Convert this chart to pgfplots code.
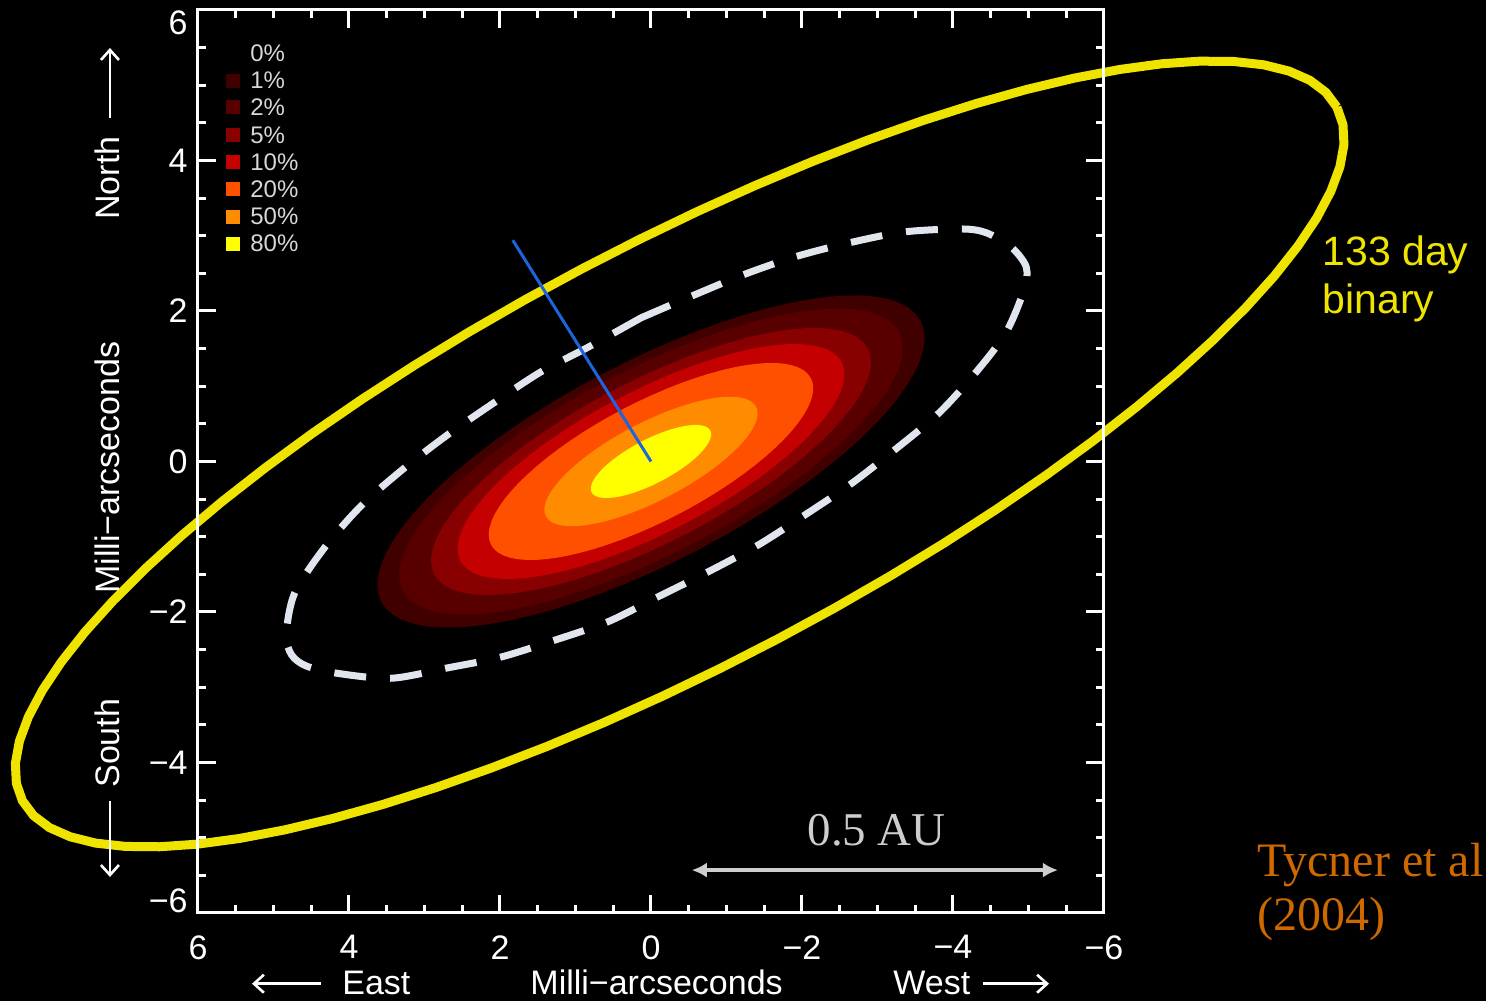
\documentclass[border=0pt]{standalone}
\usepackage{pgfplots}
\pgfplotsset{compat=1.18}
\usepackage{pgfplotstable}
\usepackage{fontspec}
\setmainfont{Liberation Sans}
\newfontfamily\timesfont{Liberation Serif}
\usetikzlibrary{backgrounds,calc,arrows.meta}

\definecolor{c1}{RGB}{64,0,0}
\definecolor{c2}{RGB}{88,0,0}
\definecolor{c5}{RGB}{136,0,0}
\definecolor{c10}{RGB}{196,0,0}
\definecolor{c20}{RGB}{255,80,0}
\definecolor{c50}{RGB}{255,140,0}
\definecolor{c80}{RGB}{255,255,0}
\definecolor{orbit}{RGB}{238,228,0}
\definecolor{dashc}{RGB}{225,230,238}
\definecolor{blueline}{RGB}{30,100,220}
\definecolor{tyc}{RGB}{205,105,0}
\definecolor{aucol}{RGB}{205,205,205}
\definecolor{legtext}{RGB}{215,215,215}

% unit circle, every 5 degrees
\pgfplotstableread{
c s
1.0000 0.0000
0.9962 0.0872
0.9848 0.1736
0.9659 0.2588
0.9397 0.3420
0.9063 0.4226
0.8660 0.5000
0.8192 0.5736
0.7660 0.6428
0.7071 0.7071
0.6428 0.7660
0.5736 0.8192
0.5000 0.8660
0.4226 0.9063
0.3420 0.9397
0.2588 0.9659
0.1736 0.9848
0.0872 0.9962
0.0000 1.0000
-0.0872 0.9962
-0.1736 0.9848
-0.2588 0.9659
-0.3420 0.9397
-0.4226 0.9063
-0.5000 0.8660
-0.5736 0.8192
-0.6428 0.7660
-0.7071 0.7071
-0.7660 0.6428
-0.8192 0.5736
-0.8660 0.5000
-0.9063 0.4226
-0.9397 0.3420
-0.9659 0.2588
-0.9848 0.1736
-0.9962 0.0872
-1.0000 0.0000
-0.9962 -0.0872
-0.9848 -0.1736
-0.9659 -0.2588
-0.9397 -0.3420
-0.9063 -0.4226
-0.8660 -0.5000
-0.8192 -0.5736
-0.7660 -0.6428
-0.7071 -0.7071
-0.6428 -0.7660
-0.5736 -0.8192
-0.5000 -0.8660
-0.4226 -0.9063
-0.3420 -0.9397
-0.2588 -0.9659
-0.1736 -0.9848
-0.0872 -0.9962
0.0000 -1.0000
0.0872 -0.9962
0.1736 -0.9848
0.2588 -0.9659
0.3420 -0.9397
0.4226 -0.9063
0.5000 -0.8660
0.5736 -0.8192
0.6428 -0.7660
0.7071 -0.7071
0.7660 -0.6428
0.8192 -0.5736
0.8660 -0.5000
0.9063 -0.4226
0.9397 -0.3420
0.9659 -0.2588
0.9848 -0.1736
0.9962 -0.0872
1.0000 0.0000
}\unitcircle

% disk contour: semi-major #1 (mas), axis ratio 0.33, tilted 27.6 deg
\newcommand{\diskell}[2]{%
\addplot[draw=none, fill=#2] table[x expr={#1*(-0.8862*\thisrow{c}+0.1529*\thisrow{s})}, y expr={#1*(0.4633*\thisrow{c}+0.2924*\thisrow{s})}] {\unitcircle};}

\begin{document}
\begin{tikzpicture}
\begin{axis}[
  name=ax,
  scale only axis, width=453pt, height=451.5pt,
  xmin=-6, xmax=6, ymin=-6, ymax=6,
  x dir=reverse,
  axis on top, clip=false,
  axis line style={white, line width=1.5pt},
  every tick/.style={white, line width=1.5pt},
  major tick length=9pt, minor tick length=4pt,
  xtick={-6,-4,-2,0,2,4,6}, ytick={-6,-4,-2,0,2,4,6},
  minor tick num=3,
  xtick pos=both, ytick pos=both,
  tick align=inside,
  xticklabels={−6,−4,−2,0,2,4,6},
  yticklabels={\raisebox{0pt}[0pt][0pt]{−6},−4,−2,0,2,4,\raisebox{-12.2pt}[0pt][0pt]{6}},
  ticklabel style={font=\fontsize{17}{17}\selectfont, text=white, inner sep=0pt},
  xticklabel style={anchor=north, yshift=-11pt},
  yticklabel style={anchor=east, xshift=-5pt},
]
% disk contours
\diskell{4.03}{c1}
\diskell{3.71}{c2}
\diskell{3.24}{c5}
\diskell{2.85}{c10}
\diskell{2.39}{c20}
\diskell{1.57}{c50}
\diskell{0.886}{c80}

% dashed white contour
\addplot[dashc, line width=3.5pt, dash pattern=on 16pt off 12pt, smooth] coordinates {
(0.13,1.91) (0.83,1.52) (1.46,1.19) (2.08,0.78) (2.70,0.35) (3.27,-0.09) (3.83,-0.58)
(4.32,-1.14) (4.72,-1.75) (4.83,-2.30) (4.76,-2.57) (4.56,-2.72) (4.12,-2.82) (3.43,-2.88)
(2.68,-2.74) (1.99,-2.60) (1.26,-2.37) (0.57,-2.13) (-0.09,-1.80) (-0.75,-1.47) (-1.42,-1.11)
(-2.04,-0.71) (-2.66,-0.29) (-3.26,0.18) (-3.81,0.64) (-4.30,1.18) (-4.70,1.71) (-4.94,2.28)
(-4.97,2.585) (-4.77,2.85) (-4.44,3.04) (-4.11,3.09) (-3.35,3.05) (-2.60,2.90) (-1.91,2.72)
(-1.22,2.48) (-0.52,2.19) (0.13,1.91)};

% binary orbit: centre (-0.38,0.10), a=9.85, b=2.78, tilt 27.9 deg
\addplot[orbit, line width=4.5pt, line join=round] table[x expr={-0.38-8.705*\thisrow{c}+1.301*\thisrow{s}}, y expr={0.10+4.609*\thisrow{c}+2.457*\thisrow{s}}] {\unitcircle};

% blue line
\addplot[blueline, line width=1.5pt] coordinates {(0,0) (1.83,2.94)};

% scale bar
\addplot[aucol, line width=2pt, {Latex[length=7.5pt,width=7.5pt]}-{Latex[length=7.5pt,width=7.5pt]}] coordinates {(-0.54,-5.43) (-5.39,-5.43)};
\node[anchor=base, text=aucol, font=\timesfont\fontsize{23.5}{23.5}\selectfont] at (axis cs:-2.99,-5.10) {0.5 AU};

% legend squares
\addplot[only marks, mark=square*, mark size=3.75pt, mark options={draw=none, fill=c1}] coordinates {(5.536,5.063)};
\addplot[only marks, mark=square*, mark size=3.75pt, mark options={draw=none, fill=c2}] coordinates {(5.536,4.707)};
\addplot[only marks, mark=square*, mark size=3.75pt, mark options={draw=none, fill=c5}] coordinates {(5.536,4.338)};
\addplot[only marks, mark=square*, mark size=3.75pt, mark options={draw=none, fill=c10}] coordinates {(5.536,3.976)};
\addplot[only marks, mark=square*, mark size=3.75pt, mark options={draw=none, fill=c20}] coordinates {(5.536,3.617)};
\addplot[only marks, mark=square*, mark size=3.75pt, mark options={draw=none, fill=c50}] coordinates {(5.536,3.253)};
\addplot[only marks, mark=square*, mark size=3.75pt, mark options={draw=none, fill=c80}] coordinates {(5.536,2.890)};
\begin{scope}[every node/.style={anchor=base west, text=legtext, font=\fontsize{12}{12}\selectfont, inner sep=0pt}]
\node at (axis cs:5.311,5.319) {0\%};
\node at (axis cs:5.311,4.957) {1\%};
\node at (axis cs:5.311,4.601) {2\%};
\node at (axis cs:5.311,4.232) {5\%};
\node at (axis cs:5.311,3.870) {10\%};
\node at (axis cs:5.311,3.511) {20\%};
\node at (axis cs:5.311,3.147) {50\%};
\node at (axis cs:5.311,2.784) {80\%};
\end{scope}

% axis descriptions
\begin{scope}[every node/.style={text=white, font=\fontsize{17}{17}\selectfont, inner sep=0pt}]
\node[anchor=base] at (axis cs:-0.074,-7.08) {Milli−arcseconds};
\node[anchor=base west] at (axis cs:4.093,-7.08) {East};
\node[anchor=base west] at (axis cs:-3.205,-7.08) {West};
\node[anchor=base, rotate=90] at (axis cs:7.033,-0.08) {Milli−arcseconds};
\node[anchor=base west, rotate=90] at (axis cs:7.033,3.209) {North};
\node[anchor=base west, rotate=90] at (axis cs:7.033,-4.339) {South};
\end{scope}
\addplot[white, line width=1.3pt, {Straight Barb[length=5pt,width=9pt]}-] coordinates {(5.285,-6.94) (4.371,-6.94)};
\addplot[white, line width=1.3pt, -{Straight Barb[length=5pt,width=9pt]}] coordinates {(-4.397,-6.94) (-5.272,-6.94)};
\addplot[white, line width=1.3pt, -{Straight Barb[length=5pt,width=9pt]}] coordinates {(7.166,4.565) (7.166,5.495)};
\addplot[white, line width=1.3pt, -{Straight Barb[length=5pt,width=9pt]}] coordinates {(7.166,-4.511) (7.166,-5.521)};

% annotations
\node[anchor=base west, text=orbit, font=\fontsize{20.5}{20.5}\selectfont, inner sep=0pt] at (axis cs:-8.89,2.61) {133 day};
\node[anchor=base west, text=orbit, font=\fontsize{20.5}{20.5}\selectfont, inner sep=0pt] at (axis cs:-8.89,1.97) {binary};
\node[anchor=base west, text=tyc, font=\timesfont\fontsize{24}{24}\selectfont, inner sep=0pt] at (axis cs:-8.03,-5.52) {Tycner et al};
\node[anchor=base west, text=tyc, font=\timesfont\fontsize{24}{24}\selectfont, inner sep=0pt] at (axis cs:-8.03,-6.23) {(2004)};
\end{axis}
\begin{scope}[on background layer]
\fill[black] ($(ax.south west)+(-99pt,-44pt)$) rectangle ($(ax.north east)+(191pt,5pt)$);
\end{scope}
\pgfresetboundingbox
\path[use as bounding box] ($(ax.south west)+(-99pt,-44pt)$) rectangle ($(ax.north east)+(191pt,5pt)$);
\end{tikzpicture}
\end{document}
